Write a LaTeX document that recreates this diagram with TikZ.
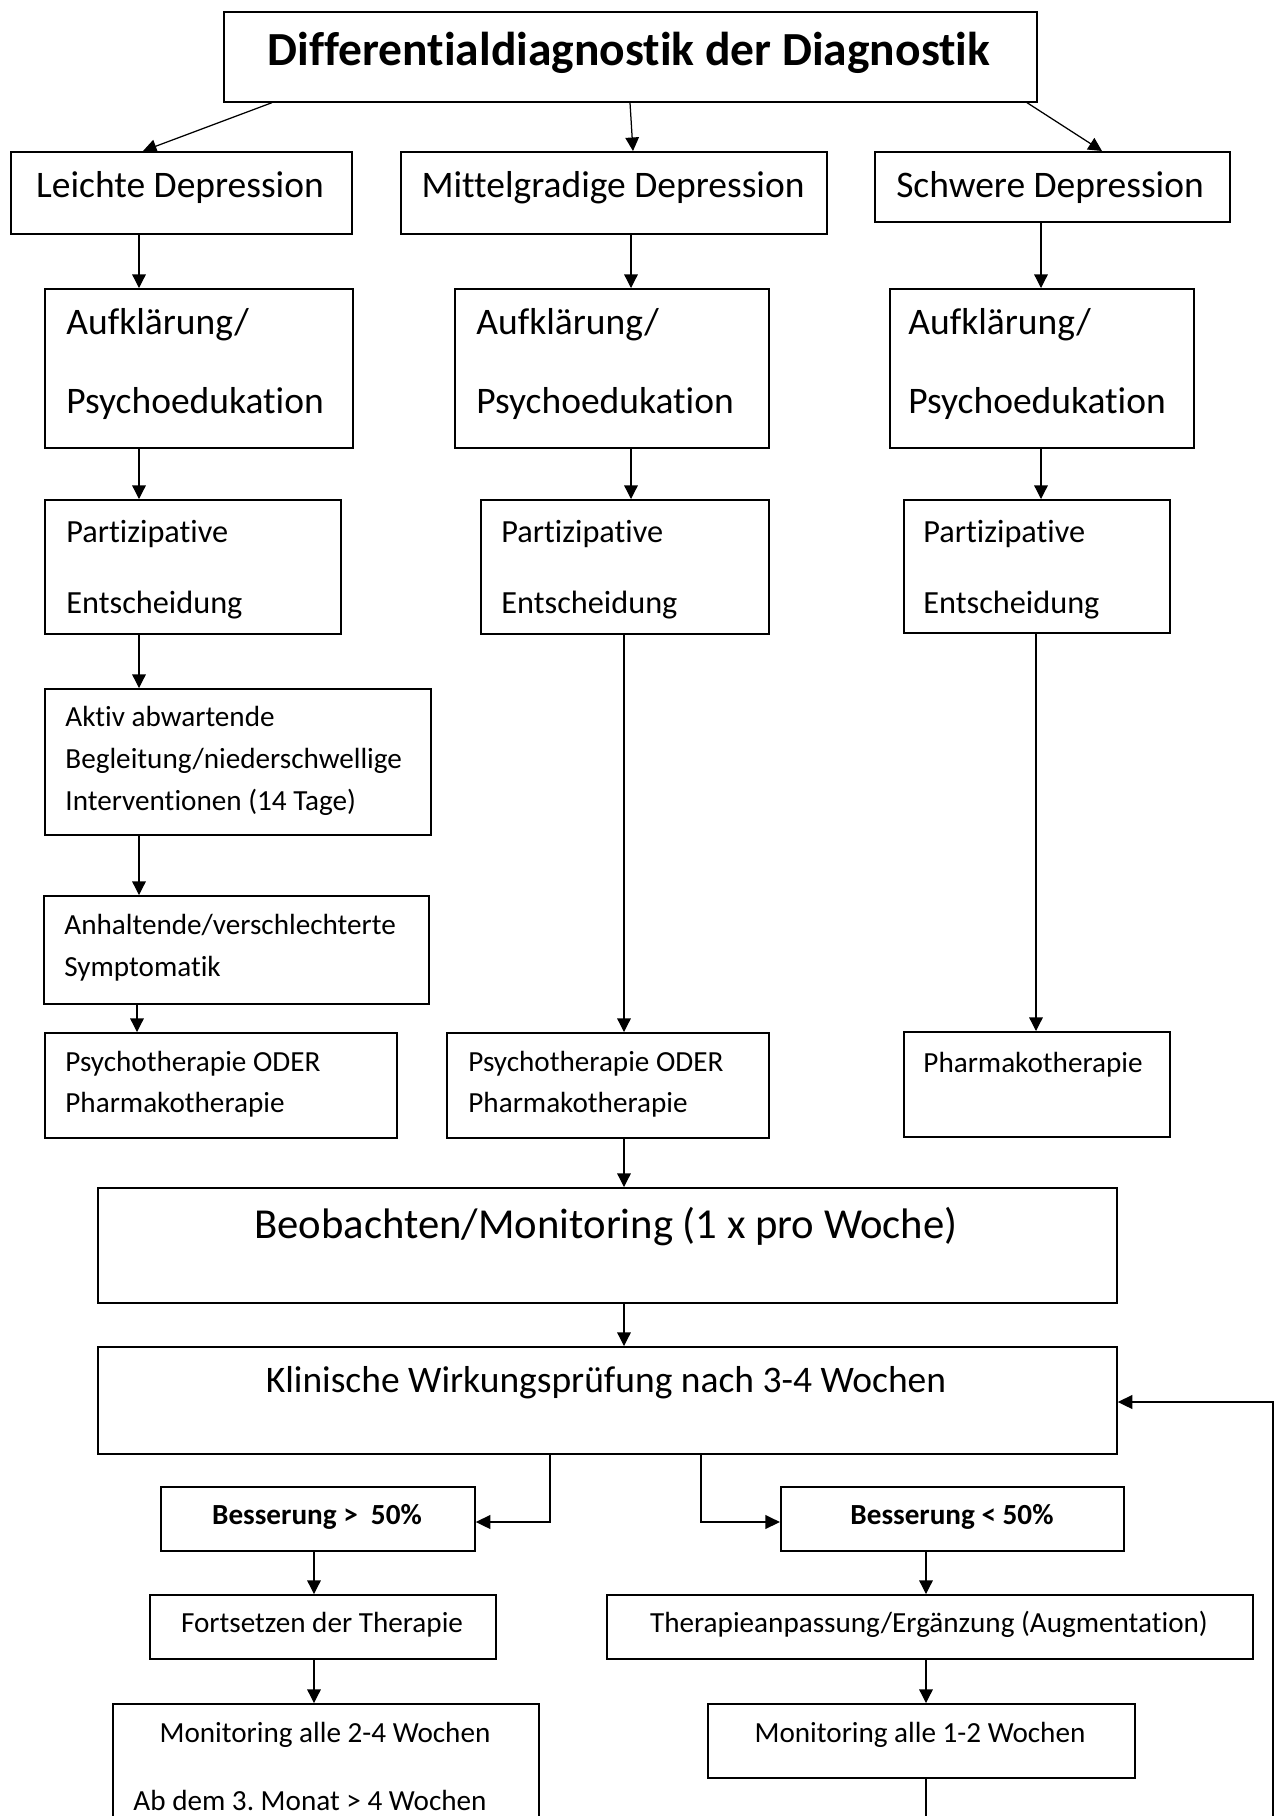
\documentclass[tikz,border=0pt]{standalone}
\usepackage{fontspec}
\setmainfont{Carlito}[Ligatures={NoCommon,NoContextual}]
\usetikzlibrary{arrows.meta,calc}
\frenchspacing
\newcommand\bx[5]{\pgfmathsetmacro\myBW{(#4-#2)*0.48}\pgfmathsetmacro\myBH{(#5-#3)*0.48}\node[box,minimum width=\myBW pt,minimum height=\myBH pt] (#1) at (#2,#3) {};}
\begin{document}
\begin{tikzpicture}[x=0.48pt,y=-0.48pt,
 box/.style={draw,line width=0.8pt,inner sep=0pt,anchor=north west},
 arr/.style={line width=0.6pt,-{Triangle[length=6.5pt,width=6.5pt]}},
 arrb/.style={line width=1pt,-{Triangle[length=7pt,width=6.5pt]}},
 tl/.style={anchor=base west,inner sep=0pt},
 tc/.style={anchor=base,inner sep=0pt},
 ftitle/.style={font=\fontsize{22.8}{26}\selectfont\bfseries},
 fbig/.style={font=\fontsize{18}{21}\selectfont},
 fbeob/.style={font=\fontsize{20.5}{24}\selectfont},
 fpar/.style={font=\fontsize{15.5}{18}\selectfont},
 fsm/.style={font=\fontsize{14}{17}\selectfont},
 fsmb/.style={font=\fontsize{14}{17}\selectfont\bfseries},
]
\useasboundingbox (0,0) rectangle (1275,1816);
\fill[white] (0,0) rectangle (1275,1816);
\clip (0,0) rectangle (1275,1816);

% boxes
\bx{title}{223}{11}{1036}{101}
\bx{leicht}{10}{151}{351}{233}
\bx{mittel}{400}{151}{826}{233}
\bx{schwer}{874}{151}{1229}{221}
\bx{aufA}{44}{288}{352}{447}
\bx{aufB}{454}{288}{768}{447}
\bx{aufC}{889}{288}{1193}{447}
\bx{parA}{44}{499}{340}{633}
\bx{parB}{480}{499}{768}{633}
\bx{parC}{903}{499}{1169}{632}
\bx{aktiv}{44}{688}{430}{834}
\bx{anhalt}{43}{895}{428}{1003}
\bx{psyA}{44}{1032}{396}{1137}
\bx{psyB}{446}{1032}{768}{1137}
\bx{pharm}{903}{1031}{1169}{1136}
\bx{beob}{97}{1187}{1116}{1302}
\bx{klin}{97}{1346}{1116}{1453}
\bx{besA}{160}{1486}{474}{1550}
\bx{besB}{780}{1486}{1123}{1550}
\bx{fort}{149}{1594}{495}{1658}
\bx{anp}{606}{1594}{1252}{1658}
\bx{monA}{112}{1703}{538}{1900}
\bx{monB}{707}{1703}{1134}{1777}

% texts
\node[tc,ftitle] (tTitle) at (629,65) {Differentialdiagnostik der Diagnostik};
\node[tc,fbig] (tLeicht) at (180,197) {Leichte Depression};
\node[tc,fbig] (tMittel) at (613,197) {Mittelgradige Depression};
\node[tc,fbig] (tSchwer) at (1050,197) {Schwere Depression};
\node[tl,fbig] (tAufA1) at (66,334) {Aufklärung/};
\node[tl,fbig] (tAufA2) at (66,413) {Psychoedukation};
\node[tl,fbig] (tAufB1) at (476,334) {Aufklärung/};
\node[tl,fbig] (tAufB2) at (476,413) {Psychoedukation};
\node[tl,fbig] (tAufC1) at (908,334) {Aufklärung/};
\node[tl,fbig] (tAufC2) at (908,413) {Psychoedukation};
\node[tl,fpar] (tParA1) at (66,542) {Partizipative};
\node[tl,fpar] (tParA2) at (66,613) {Entscheidung};
\node[tl,fpar] (tParB1) at (501,542) {Partizipative};
\node[tl,fpar] (tParB2) at (501,613) {Entscheidung};
\node[tl,fpar] (tParC1) at (923,542) {Partizipative};
\node[tl,fpar] (tParC2) at (923,613) {Entscheidung};
\node[tl,fsm] (tAk1) at (65,726) {Aktiv abwartende};
\node[tl,fsm] (tAk2) at (65,768) {Begleitung/niederschwellige};
\node[tl,fsm] (tAk3) at (65,810) {Interventionen (14 Tage)};
\node[tl,fsm] (tAn1) at (64,934) {Anhaltende/verschlechterte};
\node[tl,fsm] (tAn2) at (64,976) {Symptomatik};
\node[tl,fsm] (tPsA1) at (65,1071) {Psychotherapie ODER};
\node[tl,fsm] (tPsA2) at (65,1112) {Pharmakotherapie};
\node[tl,fsm] (tPsB1) at (468,1071) {Psychotherapie ODER};
\node[tl,fsm] (tPsB2) at (468,1112) {Pharmakotherapie};
\node[tl,fsm] (tPh) at (923,1072) {Pharmakotherapie};
\node[tc,fbeob] (tBeob) at (606,1238) {Beobachten/Monitoring (1 x pro Woche)};
\node[tc,fbig] (tKlin) at (606,1392) {Klinische Wirkungsprüfung nach 3-4 Wochen};
\node[tc,fsmb] (tBesA) at (317,1524) {Besserung >~~50\%};
\node[tc,fsmb] (tBesB) at (952,1524) {Besserung < 50\%};
\node[tc,fsm] (tFort) at (322,1632) {Fortsetzen der Therapie};
\node[tc,fsm] (tAnp) at (929,1632) {Therapieanpassung/Ergänzung (Augmentation)};
\node[tc,fsm] (tMonA1) at (325,1742) {Monitoring alle 2-4 Wochen};
\node[tc,fsm] (tMonA2) at (310,1810) {Ab dem 3. Monat > 4 Wochen};
\node[tc,fsm] (tMonB) at (920,1742) {Monitoring alle 1-2 Wochen};

% helper coordinates
\coordinate (t1) at (272,0);
\coordinate (l1) at (143,0);
\coordinate (t2) at (630,0);
\coordinate (m1) at (633,0);
\coordinate (t3) at (1027,0);
\coordinate (s1) at (1102,0);
\coordinate (cL) at (139,0);
\coordinate (cL2) at (137,0);
\coordinate (cM) at (631,0);
\coordinate (cR) at (1041,0);
\coordinate (cM2) at (624,0);
\coordinate (cR2) at (1036,0);
\coordinate (cB1) at (314,0);
\coordinate (cB2) at (926,0);
\coordinate (cK1) at (550,0);
\coordinate (cK2) at (701,0);
\coordinate (cY) at (0,1522);
\coordinate (cE) at (1273,0);
\coordinate (cFy) at (0,1402);
\coordinate (cBot) at (0,1880);

% connectors
\draw[arr] (title.south -| t1) -- (leicht.north -| l1);
\draw[arr] (title.south -| t2) -- (mittel.north -| m1);
\draw[arr] (title.south -| t3) -- (schwer.north -| s1);
\draw[arr] (leicht.south -| cL) -- (aufA.north -| cL);
\draw[arr] (mittel.south -| cM) -- (aufB.north -| cM);
\draw[arr] (schwer.south -| cR) -- (aufC.north -| cR);
\draw[arr] (aufA.south -| cL) -- (parA.north -| cL);
\draw[arr] (aufB.south -| cM) -- (parB.north -| cM);
\draw[arr] (aufC.south -| cR) -- (parC.north -| cR);
\draw[arr] (parA.south -| cL) -- (aktiv.north -| cL);
\draw[arr] (aktiv.south -| cL) -- (anhalt.north -| cL);
\draw[arr] (anhalt.south -| cL2) -- (psyA.north -| cL2);
\draw[arr] (parB.south -| cM2) -- (psyB.north -| cM2);
\draw[arr] (parC.south -| cR2) -- (pharm.north -| cR2);
\draw[arr] (psyB.south -| cM2) -- (beob.north -| cM2);
\draw[arr] (beob.south -| cM2) -- (klin.north -| cM2);
\draw[arrb] (klin.south -| cK1) |- (besA.east |- cY);
\draw[arrb] (klin.south -| cK2) |- (besB.west |- cY);
\draw[arr] (besA.south -| cB1) -- (fort.north -| cB1);
\draw[arr] (besB.south -| cB2) -- (anp.north -| cB2);
\draw[arr] (fort.south -| cB1) -- (monA.north -| cB1);
\draw[arr] (anp.south -| cB2) -- (monB.north -| cB2);
\draw[arrb] (monB.south -| cB2) -- (cB2 |- cBot) -- (cE |- cBot) -- (cE |- cFy) -- (klin.east |- cFy);
\end{tikzpicture}
\end{document}
